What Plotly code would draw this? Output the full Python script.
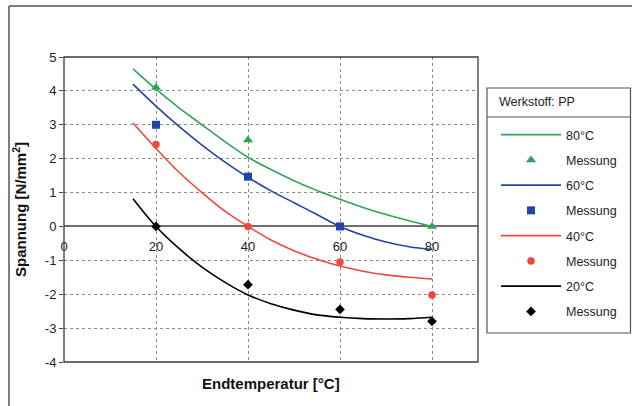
import plotly.graph_objects as go

# ---- data ----
x_curve = [15, 20, 25, 30, 35, 40, 45, 50, 55, 60, 65, 70, 75, 80]
y_80 = [4.65, 4.05, 3.50, 3.00, 2.50, 2.04, 1.68, 1.35, 1.06, 0.80, 0.56, 0.35, 0.17, 0.00]
y_60 = [4.20, 3.55, 2.95, 2.40, 1.90, 1.45, 1.05, 0.70, 0.35, 0.00, -0.26, -0.46, -0.60, -0.68]
y_40 = [3.05, 2.30, 1.60, 1.00, 0.45, 0.00, -0.40, -0.72, -0.97, -1.17, -1.32, -1.43, -1.50, -1.55]
y_20 = [0.82, 0.00, -0.65, -1.20, -1.65, -2.02, -2.28, -2.47, -2.61, -2.68, -2.72, -2.73, -2.72, -2.68]

x_m80 = [20, 40, 80]
y_m80 = [4.10, 2.55, 0.00]
x_m60 = [20, 40, 60]
y_m60 = [3.00, 1.47, 0.00]
x_m40 = [20, 40, 60, 80]
y_m40 = [2.42, 0.00, -1.05, -2.02]
x_m20 = [20, 40, 60, 80]
y_m20 = [0.00, -1.72, -2.45, -2.80]

x_ticks = [0, 20, 40, 60, 80]
y_ticks = [-4, -3, -2, -1, 0, 1, 2, 3, 4, 5]

C_GREEN = "#2fa55a"
C_BLUE = "#2443a6"
C_RED = "#f0483a"
C_BLACK = "#000000"

FONT = "Liberation Sans, Arial, sans-serif"

fig = go.Figure()

series = [
    ("80°C", x_curve, y_80, x_m80, y_m80, C_GREEN, "triangle-up", 9),
    ("60°C", x_curve, y_60, x_m60, y_m60, C_BLUE, "square", 8),
    ("40°C", x_curve, y_40, x_m40, y_m40, C_RED, "circle", 7.5),
    ("20°C", x_curve, y_20, x_m20, y_m20, C_BLACK, "diamond", 7.5),
]

for i, (name, xc, yc, xm, ym, col, sym, msz) in enumerate(series):
    fig.add_trace(go.Scatter(
        x=xc, y=yc, mode="lines", name=name,
        line=dict(color=col, width=1.6, shape="spline"),
        legendgroup=f"c{i}", cliponaxis=False,
    ))
    fig.add_trace(go.Scatter(
        x=xm, y=ym, mode="markers", name="Messung",
        marker=dict(color=col, symbol=sym, size=msz),
        legendgroup=f"m{i}", cliponaxis=False,
    ))

L, R, T, B = 64, 154, 57, 44
W, H = 632, 406
pw, ph = W - L - R, H - T - B


def px(xp):
    return (xp - L) / pw


def py(yp):
    return (H - B - yp) / ph


shapes = [
    # plot frame
    dict(type="rect", xref="x domain", yref="y domain", x0=0, x1=1, y0=0, y1=1,
         line=dict(color="#3a3a3a", width=1.3), layer="above"),
    # outer frame (left + top)
    dict(type="line", xref="paper", yref="paper", x0=px(9), x1=px(9), y0=py(6), y1=py(420),
         line=dict(color="#555555", width=1.5)),
    dict(type="line", xref="paper", yref="paper", x0=px(9), x1=px(700), y0=py(6), y1=py(6),
         line=dict(color="#555555", width=1.5)),
    # legend box
    dict(type="rect", xref="paper", yref="paper", x0=px(487), x1=px(630.5), y0=py(333), y1=py(88),
         line=dict(color="#555555", width=1.2)),
    dict(type="line", xref="paper", yref="paper", x0=px(487), x1=px(630.5), y0=py(117), y1=py(117),
         line=dict(color="#555555", width=1.2)),
]

annotations = [
    dict(text="Werkstoff: PP", xref="paper", yref="paper", x=px(497), y=py(102),
         xanchor="left", yanchor="middle", showarrow=False,
         font=dict(family=FONT, size=12.5, color="#222222")),
    dict(text="<b>Endtemperatur [°C]</b>", xref="paper", yref="paper", x=0.5, y=py(383),
         xanchor="center", yanchor="middle", showarrow=False,
         font=dict(family=FONT, size=15, color="#111111")),
]

fig.update_layout(
    width=W, height=H,
    margin=dict(l=L, r=R, t=T, b=B, pad=0, autoexpand=False),
    paper_bgcolor="white", plot_bgcolor="white",
    font=dict(family=FONT, size=13, color="#222222"),
    showlegend=True,
    legend=dict(
        x=px(496), y=py(120), xanchor="left", yanchor="top",
        bgcolor="rgba(0,0,0,0)", borderwidth=0,
        font=dict(family=FONT, size=12.5, color="#222222"),
        tracegroupgap=6, itemwidth=60,
    ),
    shapes=shapes,
    annotations=annotations,
    xaxis=dict(
        range=[0, 90], tickvals=x_ticks, ticktext=[str(v) for v in x_ticks],
        anchor="free", position=4 / 9,
        showline=False, zeroline=False,
        showgrid=True, gridcolor="#8a8a8a", griddash="dot", gridwidth=1,
        ticks="outside", ticklen=8, tickcolor="rgba(0,0,0,0)",
        tickfont=dict(family=FONT, size=13, color="#222222"),
    ),
    yaxis=dict(
        range=[-4, 5], tickvals=y_ticks, ticktext=[str(v) for v in y_ticks],
        showline=False,
        zeroline=True, zerolinecolor="#707070", zerolinewidth=1.5,
        showgrid=True, gridcolor="#8a8a8a", griddash="dot", gridwidth=1,
        ticks="outside", ticklen=4, tickcolor="#444444",
        tickfont=dict(family=FONT, size=13, color="#222222"),
        title=dict(text="<b>Spannung [N/mm<sup>2</sup>]</b>", standoff=14,
                   font=dict(family=FONT, size=15, color="#111111")),
    ),
)

fig.write_html("out.html")
